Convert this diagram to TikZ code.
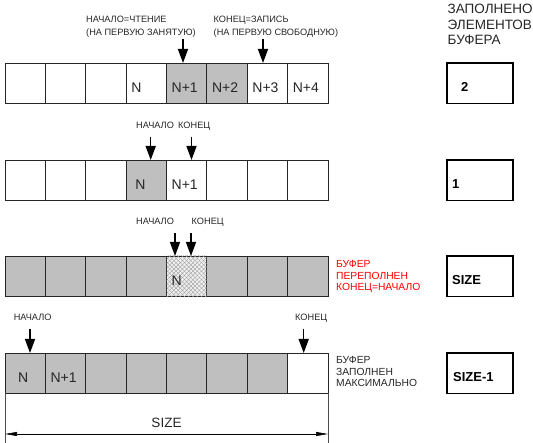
\documentclass[tikz,border=0pt]{standalone}
\usepackage{fontspec}
\setmainfont{Liberation Sans}
\usetikzlibrary{arrows.meta,patterns,patterns.meta}
\begin{document}
\begin{tikzpicture}[x=1pt,y=-1pt,
  cell/.style={draw=black!85, line width=0.8pt, minimum width=40.375pt, minimum height=40.5pt, anchor=north west, inner sep=0pt, outer sep=0pt},
  hatch/.style={fill=black!6, postaction={pattern={Lines[angle=45,distance=3pt,line width=0.35pt]}, pattern color=black!40}, postaction={pattern={Lines[angle=-45,distance=3pt,line width=0.35pt]}, pattern color=black!40}},
  cnt/.style={draw=black, line width=1.3pt, minimum width=66pt, minimum height=40.5pt, anchor=north west, inner sep=0pt, outer sep=0pt},
  ctext/.style={font=\fontsize{14}{16}\selectfont, anchor=base west, inner sep=0pt, text=black!85},
  ntext/.style={font=\fontsize{13}{15}\selectfont\bfseries, anchor=base west, inner sep=0pt},
  lbl/.style={font=\fontsize{9.2}{11}\selectfont, anchor=base west, inner sep=0pt, text=black!85},
  note/.style={font=\fontsize{10.3}{11.2}\selectfont, align=left, anchor=north west, inner sep=0pt},
  head/.style={font=\fontsize{13.5}{15.5}\selectfont, align=left, anchor=north west, inner sep=0pt, text=black!85},
  ptr/.style={line width=1.5pt, -{Triangle[length=14pt,width=10pt]}},
  dim/.style={line width=0.6pt, {Triangle[length=12pt,width=4pt]}-{Triangle[length=12pt,width=4pt]}},
]
\useasboundingbox (0,0) rectangle (533,443);
\def\gr{black!25}
% row 1
\foreach \c/\f in {1/white,2/white,3/white,4/white,5/\gr,6/\gr,7/white,8/white}
  \node[cell, fill=\f] (r1-\c) at ({5+40.375*(\c-1)},63) {};
% row 2
\foreach \c/\f in {1/white,2/white,3/white,4/\gr,5/white,6/white,7/white,8/white}
  \node[cell, fill=\f] (r2-\c) at ({5+40.375*(\c-1)},160) {};
% row 3
\foreach \c in {1,2,3,4,6,7,8}
  \node[cell, fill=\gr] (r3-\c) at ({5+40.375*(\c-1)},256) {};
\node[cell, hatch] (r3-5) at ({5+40.375*4},256) {};
% row 4
\foreach \c/\f in {1/\gr,2/\gr,3/\gr,4/\gr,5/\gr,6/\gr,7/\gr,8/white}
  \node[cell, fill=\f] (r4-\c) at ({5+40.375*(\c-1)},353) {};

% cell texts
\node[ctext] at ([xshift=5pt,yshift=11pt]r1-4.south west) {N};
\node[ctext] at ([xshift=5pt,yshift=11pt]r1-5.south west) {N+1};
\node[ctext] at ([xshift=5pt,yshift=11pt]r1-6.south west) {N+2};
\node[ctext] at ([xshift=5pt,yshift=11pt]r1-7.south west) {N+3};
\node[ctext] at ([xshift=5pt,yshift=11pt]r1-8.south west) {N+4};
\node[ctext] at ([xshift=9pt,yshift=11pt]r2-4.south west) {N};
\node[ctext] at ([xshift=5pt,yshift=11pt]r2-5.south west) {N+1};
\node[ctext] at ([xshift=5pt,yshift=11pt]r3-5.south west) {N};
\node[ctext] at ([xshift=13pt,yshift=11pt]r4-1.south west) {N};
\node[ctext] at ([xshift=5pt,yshift=11pt]r4-2.south west) {N+1};

% counter boxes
\node[head] (hd) at (447.5,4) {ЗАПОЛНЕНО\\ЭЛЕМЕНТОВ\\БУФЕРА};
\node[cnt] (k1) at (447,63) {};
\node[cnt] (k2) at (447,160) {};
\node[cnt] (k3) at (447,256) {};
\node[cnt] (k4) at (447,353) {};
\node[ntext] at ([xshift=14pt,yshift=11.5pt]k1.south west) {2};
\node[ntext] at ([xshift=5pt,yshift=11.5pt]k2.south west) {1};
\node[ntext] at ([xshift=5pt,yshift=11.5pt]k3.south west) {SIZE};
\node[ntext] at ([xshift=6pt,yshift=11.5pt]k4.south west) {SIZE-1};

% labels row 1
\node[lbl] (l1a) at (86,23) {НАЧАЛО=ЧТЕНИЕ};
\node[lbl] (l1b) at (86,35.5) {(НА ПЕРВУЮ ЗАНЯТУЮ)};
\node[lbl] (l1c) at (213.5,23) {КОНЕЦ=ЗАПИСЬ};
\node[lbl] (l1d) at (213.5,35.5) {(НА ПЕРВУЮ СВОБОДНУЮ)};
\coordinate (p1) at (183,39);
\coordinate (p2) at (263,39);
\draw[ptr] (p1) -- (p1 |- r1-5.north);
\draw[ptr] (p2) -- (p2 |- r1-7.north);

% labels row 2
\node[lbl] (l2a) at (136,128.5) {НАЧАЛО};
\node[lbl] (l2b) at (178,128.5) {КОНЕЦ};
\coordinate (p3) at (150.7,137);
\coordinate (p4) at (191.5,137);
\draw[ptr] (p3) -- (p3 |- r2-4.north);
\draw[ptr] (p4) -- (p4 |- r2-5.north);

% labels row 3
\node[lbl] (l3a) at (136,224.3) {НАЧАЛО};
\node[lbl] (l3b) at (191.5,224.3) {КОНЕЦ};
\coordinate (p5) at (175,233);
\coordinate (p6) at (191,233);
\draw[ptr] (p5) -- (p5 |- r3-5.north);
\draw[ptr] (p6) -- (p6 |- r3-5.north);
\node[note, text=red] (n3) at (336,260.5) {БУФЕР\\ПЕРЕПОЛНЕН\\КОНЕЦ=НАЧАЛО};

% labels row 4
\node[lbl] (l4a) at (13.6,321) {НАЧАЛО};
\node[lbl] (l4b) at (295,321) {КОНЕЦ};
\coordinate (p7) at (30,329);
\coordinate (p8) at (303.7,329);
\draw[ptr] (p7) -- (p7 |- r4-1.north);
\draw[ptr] (p8) -- (p8 |- r4-8.north);
\node[note, text=black!85] (n4) at (336,356.5) {БУФЕР\\ЗАПОЛНЕН\\МАКСИМАЛЬНО};

% dimension
\coordinate (el) at (5,443);
\coordinate (er) at (328,443);
\draw[line width=0.6pt, black!70] (r4-1.south west) -- (el);
\draw[line width=0.6pt, black!70] (r4-8.south east) -- (er);
\coordinate (dl) at (5,434);
\coordinate (dr) at (328,434);
\draw[dim] (dl) -- (dr);
\node[font=\fontsize{13.5}{15}\selectfont, inner sep=0pt, text=black!85] (sz) at (166.5,423) {SIZE};
\end{tikzpicture}
\end{document}
